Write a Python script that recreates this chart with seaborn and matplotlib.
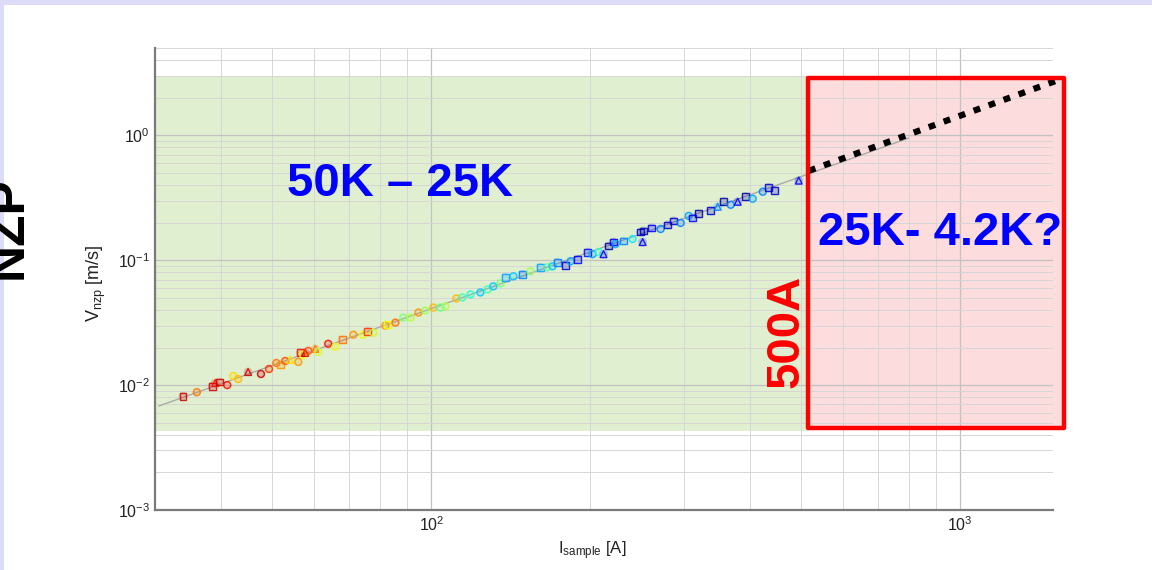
import numpy as np
import pandas as pd
import matplotlib
matplotlib.use("Agg")
import matplotlib.pyplot as plt
from matplotlib.patches import Rectangle
from matplotlib.ticker import LogLocator, NullFormatter
import seaborn as sns

# Measured normal-zone propagation velocity vs. sample current
current = [33.9, 36.0, 38.5, 39.0, 39.7, 41.1, 42.2, 43.1, 45.0, 47.6,
           49.3, 50.9, 51.8, 52.9, 54.1, 56.0, 56.5, 57.2, 57.7, 58.5,
           60.3, 61.1, 63.8, 65.8, 67.8, 71.2, 74.3, 75.7, 77.7, 81.8,
           82.5, 85.5, 88.5, 91.3, 94.5, 97.4, 100.9, 104.0, 106.3, 111.5,
           114.5, 118.6, 123.8, 127.7, 131.0, 135.1, 138.1, 143.0, 148.7, 154.0,
           160.9, 165.8, 169.5, 173.2, 179.4, 183.4, 189.0, 197.5, 201.8, 207.2,
           211.7, 216.4, 221.1, 223.1, 231.0, 240.3, 248.8, 251.0, 252.1, 261.0,
           271.5, 279.9, 287.3, 296.2, 306.8, 312.1, 320.4, 337.7, 348.1, 357.3,
           368.4, 379.8, 393.3, 405.5, 423.6, 434.8, 446.3, 495.5]
velocity = [0.00815, 0.00878, 0.00981, 0.01038, 0.01057, 0.0100, 0.01182, 0.01118, 0.01273, 0.01227,
            0.01346, 0.01504, 0.0145, 0.01561, 0.01591, 0.01533, 0.01812, 0.01746, 0.01812, 0.0188,
            0.01951, 0.01845, 0.02141, 0.02025, 0.02306, 0.02531, 0.02531, 0.02676, 0.02627, 0.02991,
            0.03047, 0.03162, 0.0347, 0.0347, 0.03807, 0.03952, 0.04178, 0.04178, 0.04256, 0.04938,
            0.0503, 0.05319, 0.0552, 0.05837, 0.06171, 0.06525, 0.07294, 0.0743, 0.07711, 0.08152,
            0.0878, 0.0878, 0.08945, 0.09636, 0.09113, 0.09815, 0.1019, 0.116, 0.1118, 0.116,
            0.1118, 0.1297, 0.1397, 0.1346, 0.1423, 0.1477, 0.1682, 0.1397, 0.1714, 0.1812,
            0.1778, 0.1916, 0.2063, 0.1988, 0.2263, 0.2181, 0.235, 0.2485, 0.2676, 0.2936,
            0.2777, 0.2936, 0.3222, 0.3105, 0.3535, 0.3807, 0.3602, 0.4337]
temperature = [50, 46, 50, 49, 50, 49, 43, 44, 50, 50,
               48, 46, 45, 47, 43, 45, 49, 42, 50, 47,
               46, 41, 49, 42, 46, 45, 42, 48, 41, 45,
               42, 46, 38, 40, 45, 39, 44, 37, 40, 44,
               36, 35, 33, 36, 33, 38, 32, 33, 31, 39,
               32, 37, 33, 31, 26, 32, 27, 28, 32, 35,
               27, 25, 27, 32, 31, 34, 26, 27, 25, 27,
               31, 26, 26, 31, 32, 27, 25, 26, 31, 25,
               31, 27, 25, 32, 31, 26, 26, 27]
sample_type = ["sq", "ci", "sq", "tr", "sq", "ci", "ci", "ci", "tr", "ci",
               "ci", "ci", "sq", "ci", "tr", "ci", "sq", "ci", "tr", "ci",
               "tr", "ci", "ci", "ci", "sq", "ci", "ci", "sq", "ci", "ci",
               "sq", "ci", "ci", "ci", "ci", "ci", "ci", "ci", "ci", "ci",
               "ci", "ci", "ci", "ci", "ci", "ci", "sq", "ci", "sq", "ci",
               "sq", "ci", "ci", "sq", "sq", "ci", "sq", "sq", "ci", "ci",
               "tr", "sq", "sq", "ci", "sq", "ci", "sq", "tr", "sq", "sq",
               "ci", "sq", "sq", "ci", "ci", "sq", "sq", "sq", "tr", "sq",
               "ci", "tr", "sq", "ci", "ci", "sq", "sq", "tr"]

# Power-law fit through the measurements and its extrapolation
fit_current = [30.5, 800.0]
fit_velocity = [0.0068, 0.95]
extrap_current = [518.0, 1520.0]
extrap_velocity = [0.52, 2.73]

# Operating regions (current range, velocity range)
measured_current = (30.0, 515.0)
measured_velocity = (0.0043, 3.0)
unknown_current = (515.0, 1574.0)
unknown_velocity = (0.0045, 2.88)

x_limits = (30, 1500)
y_limits = (1e-3, 5)

df = pd.DataFrame({"current": current, "velocity": velocity,
                   "temperature": temperature, "sample": sample_type})

sns.set_style("white")
plt.rcParams["font.family"] = ["Liberation Sans", "DejaVu Sans"]
plt.rcParams["mathtext.fontset"] = "custom"
plt.rcParams["mathtext.rm"] = "Liberation Sans"
plt.rcParams["mathtext.it"] = "Liberation Sans:italic"
plt.rcParams["axes.unicode_minus"] = False

W, H = 1152, 570
fig = plt.figure(figsize=(W / 100, H / 100), dpi=100)
fig.patch.set_facecolor("white")

# slide frame (lavender edges)
fig.patches.append(Rectangle((0, 1 - 5 / H), 1, 5 / H, transform=fig.transFigure,
                             facecolor="#dcdcf8", edgecolor="none", zorder=0))
fig.patches.append(Rectangle((0, 0), 4 / W, 1, transform=fig.transFigure,
                             facecolor="#dcdcf8", edgecolor="none", zorder=0))

ax = fig.add_axes([155 / W, 1 - 510 / H, 898 / W, 462 / H])
ax.set_xscale("log")
ax.set_yscale("log")
ax.set_xlim(*x_limits)
ax.set_ylim(*y_limits)
ax.set_facecolor("white")
ax.set_axisbelow(True)

# shaded regions
ax.add_patch(Rectangle((measured_current[0], measured_velocity[0]),
                       measured_current[1] - measured_current[0],
                       measured_velocity[1] - measured_velocity[0],
                       facecolor="#e0efcf", edgecolor="none", zorder=0.2))
ax.add_patch(Rectangle((unknown_current[0], unknown_velocity[0]),
                       unknown_current[1] - unknown_current[0],
                       unknown_velocity[1] - unknown_velocity[0],
                       facecolor="#fcdcdc", edgecolor="none", zorder=0.2,
                       clip_on=False))

# grid
ax.xaxis.set_minor_locator(LogLocator(base=10, subs=np.arange(2, 10)))
ax.yaxis.set_minor_locator(LogLocator(base=10, subs=np.arange(2, 10)))
ax.xaxis.set_minor_formatter(NullFormatter())
ax.yaxis.set_minor_formatter(NullFormatter())
ax.grid(which="major", color="#c2c2c2", linewidth=0.9)
ax.grid(which="minor", color="#d6d6d6", linewidth=0.7)

# fit line
ax.plot(fit_current, fit_velocity, color="#aaaaaa", linewidth=1.0, zorder=1.5)

jet = plt.get_cmap("jet")
marker_map = {"sq": "s", "ci": "o", "tr": "^"}

# soft coloured halo under the open markers
sns.scatterplot(data=df, x="current", y="velocity", hue="temperature",
                palette=jet, hue_norm=(24, 52), s=40, linewidth=0,
                alpha=0.22, legend=False, ax=ax, zorder=1.8)

# measurements
sns.scatterplot(data=df, x="current", y="velocity", hue="temperature",
                style="sample", markers=marker_map,
                palette=jet, hue_norm=(24, 52), s=24,
                linewidth=1.0, legend=False, ax=ax, zorder=2)
pts = ax.collections[-1]
cols = pts.get_facecolors()
cols[:, 3] = 0.85
pts.set_edgecolors(cols)
pts.set_facecolors("none")

# extrapolation
ax.plot(extrap_current, extrap_velocity, color="black", linewidth=4.5,
        linestyle=(0, (1.1, 1.45)), dash_capstyle="butt", zorder=4, clip_on=False)

# region outline
ax.add_patch(Rectangle((unknown_current[0], unknown_velocity[0]),
                       unknown_current[1] - unknown_current[0],
                       unknown_velocity[1] - unknown_velocity[0],
                       facecolor="none", edgecolor="#ff0000", linewidth=3.2,
                       joinstyle="round", zorder=5, clip_on=False))

for side in ("top", "right"):
    ax.spines[side].set_visible(False)
for side in ("left", "bottom"):
    ax.spines[side].set_color("#7a7a7a")
    ax.spines[side].set_linewidth(1.6)
ax.tick_params(which="both", direction="in", colors="#7a7a7a",
               labelcolor="#222222", labelsize=11.5)
ax.tick_params(which="major", length=5, width=1)
ax.tick_params(which="minor", length=3, width=0.8)

ax.set_xlabel(r"I$_{\rm sample}$ [A]", fontsize=12, color="#222222")
ax.set_ylabel(r"V$_{\rm nzp}$ [m/s]", fontsize=13, color="#222222")
ax.xaxis.set_label_coords(0.487, -0.064)
ax.yaxis.set_label_coords(-0.052, 0.49)

# annotations
bold = dict(fontweight="bold", family="Liberation Sans")
fig.text(287 / W, 1 - 196 / H, "50K \u2013 25K", color="#0000ff", fontsize=34,
         ha="left", va="baseline", **bold)
fig.text(818 / W, 1 - 245 / H, "25K- 4.2K?", color="#0000ff", fontsize=34,
         ha="left", va="baseline", **bold)
fig.text(809 / W, 1 - 331 / H, "500A", color="#ff0000", fontsize=34,
         ha="right", va="center", rotation=90, **bold)
fig.text(33 / W, 1 - 228 / H, "NZP", color="black", fontsize=37,
         ha="right", va="center", rotation=90, **bold)

fig.savefig("out.png", dpi=100, facecolor=fig.get_facecolor())
